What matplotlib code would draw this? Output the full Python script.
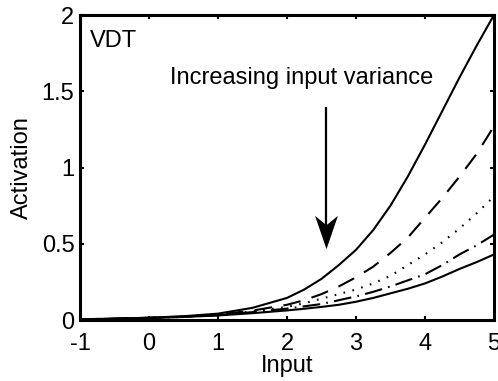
import matplotlib

matplotlib.use("Agg")
import matplotlib.pyplot as plt
from matplotlib.path import Path

plt.rcParams["font.family"] = ["Liberation Sans", "DejaVu Sans"]
plt.rcParams["axes.unicode_minus"] = False

# Activation, one curve per input-variance level
x = [-1.0, -0.5, 0.0, 0.5, 1.0, 1.5, 2.0, 2.25, 2.5, 2.75, 3.0, 3.25,
     3.5, 3.75, 4.0, 4.25, 4.5, 4.75, 5.0]
act_solid_top = [0.005, 0.009, 0.015, 0.025, 0.042, 0.08, 0.145, 0.20, 0.27, 0.36,
                 0.46, 0.59, 0.75, 0.94, 1.15, 1.37, 1.59, 1.80, 2.0]
act_dashed = [0.005, 0.009, 0.015, 0.023, 0.036, 0.062, 0.100, 0.13, 0.17, 0.22,
              0.28, 0.35, 0.44, 0.54, 0.67, 0.80, 0.94, 1.09, 1.27]
act_dotted = [0.005, 0.009, 0.014, 0.022, 0.034, 0.056, 0.086, 0.11, 0.14, 0.17,
              0.20, 0.24, 0.29, 0.36, 0.43, 0.51, 0.60, 0.70, 0.81]
act_dashdot = [0.005, 0.009, 0.014, 0.021, 0.032, 0.052, 0.075, 0.09, 0.105, 0.13,
               0.155, 0.185, 0.22, 0.26, 0.30, 0.36, 0.43, 0.49, 0.56]
act_solid_low = [0.005, 0.008, 0.013, 0.020, 0.030, 0.045, 0.063, 0.074, 0.086, 0.10,
                 0.12, 0.145, 0.175, 0.205, 0.24, 0.285, 0.335, 0.38, 0.43]

x_ticks = [-1, 0, 1, 2, 3, 4, 5]
y_ticks = [0, 0.5, 1, 1.5, 2]
y_tick_labels = ["0", "0.5", "1", "1.5", "2"]

# arrow: shaft from (x, top) down to the notched head centred at (x, head)
arrow_x = 2.565
arrow_top = 1.40
arrow_head = 0.577

FS = 17
LW = 1.5

fig = plt.figure(figsize=(4.98, 3.81), dpi=100)
ax = fig.add_axes([0.1606, 0.160, 0.8313, 0.8006])

ax.plot(x, act_solid_top, color="k", lw=LW, ls="-")
ax.plot(x, act_dashed, color="k", lw=LW, ls=(0, (8.5, 5.5)))
ax.plot(x, act_dotted, color="k", lw=LW, ls=(0, (0.8, 3.6)))
ax.plot(x, act_dashdot, color="k", lw=LW, ls=(0, (8.5, 3.0, 0.8, 3.0)))
ax.plot(x, act_solid_low, color="k", lw=LW, ls="-")

# MATLAB-style notched arrow head pointing down
head = Path([(0, -16), (11, 16), (0, 7), (-11, 16), (0, -16)],
            [Path.MOVETO, Path.LINETO, Path.LINETO, Path.LINETO, Path.CLOSEPOLY])
ax.plot([arrow_x, arrow_x], [arrow_top, arrow_head], color="k", lw=1.6,
        solid_capstyle="butt")
ax.plot([arrow_x], [arrow_head], marker=head, markersize=24, color="k",
        markeredgewidth=0)

ax.text(0.30, 1.55, "Increasing input variance", fontsize=FS, va="baseline", ha="left")
ax.text(-0.855, 1.79, "VDT", fontsize=FS, va="baseline", ha="left")

ax.set_xlim(-1, 5)
ax.set_ylim(0, 2)
ax.set_xticks(x_ticks)
ax.set_yticks(y_ticks)
ax.set_yticklabels(y_tick_labels)
ax.tick_params(
    direction="in", top=True, right=True, length=3, width=1.5, labelsize=FS
)
ax.tick_params(axis="x", pad=9)
ax.tick_params(axis="y", pad=4)
for spine in ax.spines.values():
    spine.set_linewidth(2.2)

ax.set_xlabel("Input", fontsize=FS, labelpad=0)
ax.set_ylabel("Activation", fontsize=FS, labelpad=6)

fig.savefig("out.png", dpi=100)
